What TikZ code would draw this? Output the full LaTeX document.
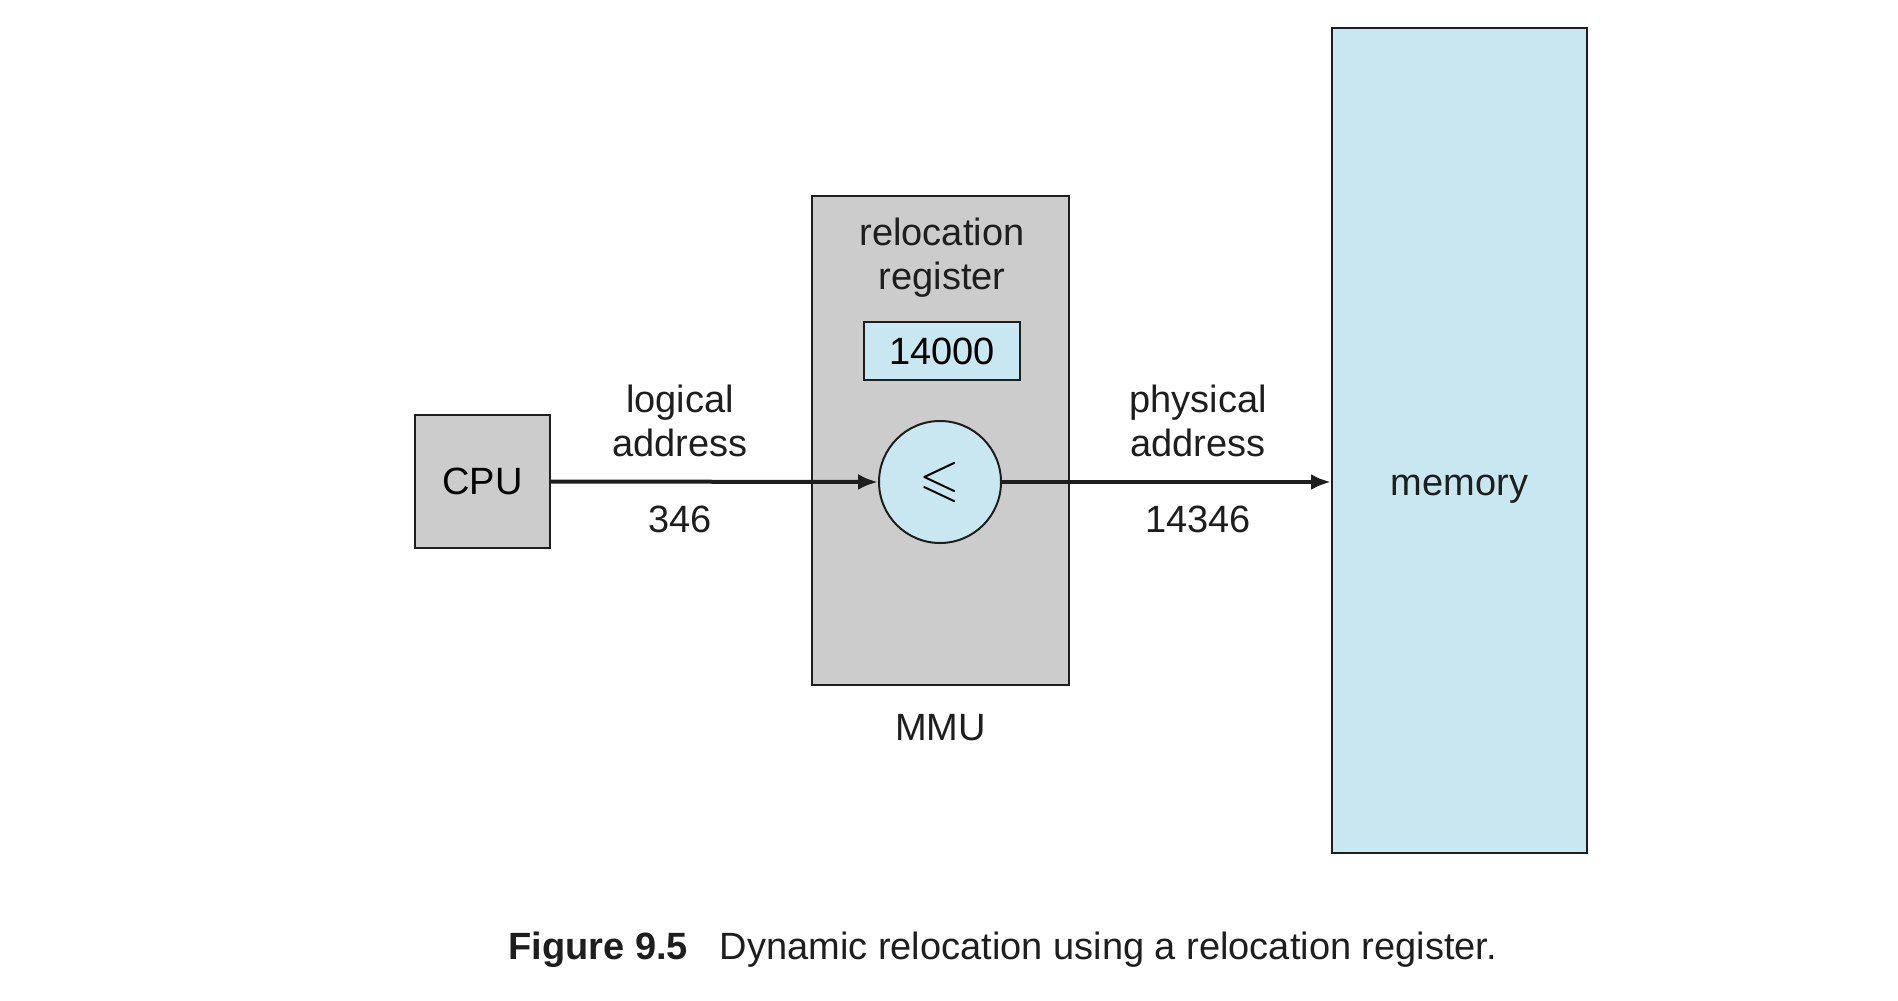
\documentclass[tikz,border=0pt]{standalone}
\usepackage{amsmath,amssymb}
\usepackage{fontspec}
\setmainfont{Liberation Sans}
\usepackage{xcolor}
\usetikzlibrary{arrows.meta,positioning,calc}
\definecolor{mmugray}{RGB}{204,204,204}
\definecolor{memblue}{RGB}{200,231,240}
\definecolor{inkdark}{RGB}{30,30,30}

\begin{document}
\begin{tikzpicture}[
  x=0.5pt, y=-0.5pt,
  font=\fontsize{19}{22}\selectfont,
  box/.style={draw=inkdark, line width=1pt, inner sep=0pt, align=center},
  grey/.style={box, fill=mmugray},
  blue/.style={box, fill=memblue},
  lbl/.style={align=center, text=inkdark, inner sep=0pt},
  arr/.style={-{Latex[length=10pt,width=8pt]}, inkdark, line width=2pt}
]
\useasboundingbox (0,0) rectangle (1898,1000);

\node[grey, minimum width=67.5pt, minimum height=66.5pt] (cpu) at (482.5,481.5) {CPU};
\node[grey, minimum width=128.5pt, minimum height=244.5pt] (mmu) at (940.5,440.5) {};
\node[blue, minimum width=127.5pt, minimum height=412.5pt] (mem) at (1459.5,440.5) {};

\node[lbl] (relreg) at (942,258) {relocation\\register};
\node[blue, minimum width=78pt, minimum height=29pt] (reg) at (942,351) {14000};
\node[blue, circle, minimum size=61pt] (add) at (940,482) {\fontsize{26}{26}\selectfont$\leqslant$};
\node[lbl, below=14pt of mmu] (mmulbl) {MMU};
\node[lbl, yshift=-3.5pt] (memlbl) at (mem.center |- add) {memory};

\draw[arr] (cpu.east) -- (add.west);
\draw[arr] (add.east) -- (add.east -| mem.west);

\node[lbl] (logical) at (680,421) {logical\\address};
\node[lbl] (laddr) at (680,519) {346};
\node[lbl] (physical) at (1198,421) {physical\\address};
\node[lbl] (paddr) at (1198,519) {14346};

\node[lbl, anchor=west] (caption) at (508,950)
  {\textbf{Figure 9.5}\hspace{16pt}Dynamic relocation using a relocation register.};
\end{tikzpicture}
\end{document}
